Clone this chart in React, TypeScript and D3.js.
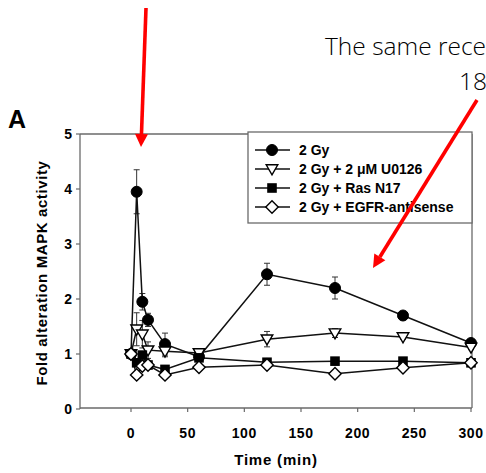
import React from "react";
import * as d3 from "d3";

// Time points (min) and MAPK fold-change for each treatment
const times = [0, 5, 10, 15, 30, 60, 120, 180, 240, 300];
const gy2 = [1.0, 3.95, 1.95, 1.62, 1.18, 0.95, 2.45, 2.2, 1.7, 1.2];
const gy2Err = [0, 0.4, 0.15, 0.12, 0.2, 0.05, 0.2, 0.2, 0.06, 0.05];
const u0126 = [1.0, 1.45, 1.36, 1.07, 1.05, 1.02, 1.27, 1.38, 1.31, 1.12];
const u0126Err = [0, 0.3, 0.25, 0.15, 0.1, 0.06, 0.14, 0.08, 0.04, 0.04];
const rasN17 = [1.0, 0.84, 0.98, 0.8, 0.72, 0.93, 0.85, 0.87, 0.87, 0.84];
const egfr = [1.0, 0.62, 0.78, 0.8, 0.62, 0.76, 0.8, 0.64, 0.75, 0.84];

const seriesNames = [
  "2 Gy",
  "2 Gy + 2 \u03BCM U0126",
  "2 Gy + Ras N17",
  "2 Gy + EGFR-antisense",
];
const xTicks = [0, 50, 100, 150, 200, 250, 300];
const yTicks = [0, 1, 2, 3, 4, 5];

type Shape = "circle" | "triangle" | "square" | "diamond";

const series: { name: string; values: number[]; err: number[] | null; shape: Shape }[] = [
  { name: seriesNames[0], values: gy2, err: gy2Err, shape: "circle" },
  { name: seriesNames[1], values: u0126, err: u0126Err, shape: "triangle" },
  { name: seriesNames[2], values: rasN17, err: null, shape: "square" },
  { name: seriesNames[3], values: egfr, err: null, shape: "diamond" },
];

const x = d3.scaleLinear().domain([0, 300]).range([131, 471]);
const y = d3.scaleLinear().domain([0, 5]).range([409, 134]);

const FONT = "'Liberation Sans', Arial, sans-serif";
const AXIS = "#6a6a6a";

function Marker({ shape, cx, cy }: { shape: Shape; cx: number; cy: number }) {
  if (shape === "circle")
    return <circle cx={cx} cy={cy} r={5.5} fill="#000" stroke="#000" strokeWidth={1} />;
  if (shape === "square")
    return <rect x={cx - 4.8} y={cy - 4.8} width={9.6} height={9.6} fill="#000" />;
  if (shape === "triangle")
    return (
      <path
        d={`M${cx - 5.8},${cy - 4.2}L${cx + 5.8},${cy - 4.2}L${cx},${cy + 5.8}Z`}
        fill="#fff"
        stroke="#000"
        strokeWidth={1.4}
      />
    );
  return (
    <path
      d={`M${cx},${cy - 6.2}L${cx + 6.2},${cy}L${cx},${cy + 6.2}L${cx - 6.2},${cy}Z`}
      fill="#fff"
      stroke="#000"
      strokeWidth={1.4}
    />
  );
}

function Arrow({ x1, y1, x2, y2, w = 3.6, head = 13, hw = 6.5 }: any) {
  const dx = x2 - x1;
  const dy = y2 - y1;
  const len = Math.hypot(dx, dy);
  const ux = dx / len;
  const uy = dy / len;
  const bx = x2 - ux * head;
  const by = y2 - uy * head;
  const px = -uy;
  const py = ux;
  return (
    <g>
      <line x1={x1} y1={y1} x2={bx} y2={by} stroke="#ff0000" strokeWidth={w} />
      <path
        d={`M${x2},${y2}L${bx + px * hw},${by + py * hw}L${bx - px * hw},${by - py * hw}Z`}
        fill="#ff0000"
      />
    </g>
  );
}

export default function App() {
  const line = d3
    .line<number>()
    .x((_, i) => x(times[i]))
    .y((v) => y(v));

  return (
    <svg
      width={486}
      height={473}
      style={{ position: "absolute", left: 0, top: 0, background: "#fff" }}
      fontFamily={FONT}
    >
      <rect width={486} height={473} fill="#fff" />

      {/* annotation text */}
      <text x={325} y={55} fontFamily="'Open Sans', sans-serif" fontWeight={300} fontSize={24.5} fill="#000">
        The same rece
      </text>
      <text x={459} y={90} fontFamily="'Open Sans', sans-serif" fontWeight={300} fontSize={24.5} fill="#000">
        18
      </text>

      {/* panel letter */}
      <text x={8} y={128} fontSize={25} fontWeight={700} fill="#000">
        A
      </text>

      {/* frame */}
      <line x1={80} y1={134} x2={472} y2={134} stroke={AXIS} strokeWidth={1.3} />
      <line x1={472} y1={134} x2={472} y2={408} stroke={AXIS} strokeWidth={1.3} />
      <line x1={80} y1={134} x2={80} y2={409} stroke={AXIS} strokeWidth={1.3} />
      <line x1={80} y1={408} x2={472} y2={408} stroke={AXIS} strokeWidth={1.3} />

      {/* y axis ticks */}
      {yTicks.map((t) => (
        <g key={`y${t}`}>
          <line x1={76} x2={80} y1={y(t)} y2={y(t)} stroke={AXIS} strokeWidth={1.2} />
          <text
            x={72}
            y={y(t) + 5}
            textAnchor="end"
            fontSize={14}
            fontWeight={700}
            fill="#000"
          >
            {t}
          </text>
        </g>
      ))}

      {/* x axis ticks */}
      {xTicks.map((t) => (
        <g key={`x${t}`}>
          <line x1={x(t)} x2={x(t)} y1={408} y2={412} stroke={AXIS} strokeWidth={1.2} />
          <text
            x={x(t)}
            y={438}
            textAnchor="middle"
            fontSize={14}
            fontWeight={700}
            letterSpacing={0.6}
            fill="#000"
          >
            {t}
          </text>
        </g>
      ))}

      {/* axis titles */}
      <text x={276} y={465} textAnchor="middle" fontSize={15} fontWeight={700} letterSpacing={0.8} fill="#000">
        Time (min)
      </text>
      <text
        transform="translate(47,273) rotate(-90)"
        textAnchor="middle"
        fontSize={15}
        fontWeight={700}
        letterSpacing={0.6}
        fill="#000"
      >
        Fold alteration MAPK activity
      </text>

      {/* error bars */}
      {series.map((s) =>
        s.err
          ? s.values.map((v, i) =>
              s.err![i] > 0 ? (
                <g key={`${s.name}-e${i}`} stroke="#333" strokeWidth={1}>
                  <line x1={x(times[i])} x2={x(times[i])} y1={y(v - s.err![i])} y2={y(v + s.err![i])} />
                  <line x1={x(times[i]) - 3} x2={x(times[i]) + 3} y1={y(v + s.err![i])} y2={y(v + s.err![i])} />
                  <line x1={x(times[i]) - 3} x2={x(times[i]) + 3} y1={y(v - s.err![i])} y2={y(v - s.err![i])} />
                </g>
              ) : null
            )
          : null
      )}

      {/* series lines */}
      {series.map((s) => (
        <path key={`${s.name}-l`} d={line(s.values) || ""} fill="none" stroke="#111" strokeWidth={1.5} />
      ))}

      {/* series markers */}
      {series.map((s) =>
        s.values.map((v, i) => (
          <Marker key={`${s.name}-m${i}`} shape={s.shape} cx={x(times[i])} cy={y(v)} />
        ))
      )}

      {/* legend */}
      <rect x={248} y={132} width={224} height={91} fill="#fff" stroke={AXIS} strokeWidth={1.3} />
      {series.map((s, i) => {
        const ly = 150 + i * 19;
        return (
          <g key={`${s.name}-lg`}>
            <line x1={255} x2={290} y1={ly} y2={ly} stroke="#111" strokeWidth={1.5} />
            <Marker shape={s.shape} cx={272} cy={ly} />
            <text x={299} y={ly + 5} fontSize={14} fontWeight={700} fill="#000">
              {s.name}
            </text>
          </g>
        );
      })}

      {/* red arrows */}
      <Arrow x1={146} y1={8} x2={141} y2={147} />
      <Arrow x1={477} y1={100} x2={373} y2={268} />
    </svg>
  );
}
